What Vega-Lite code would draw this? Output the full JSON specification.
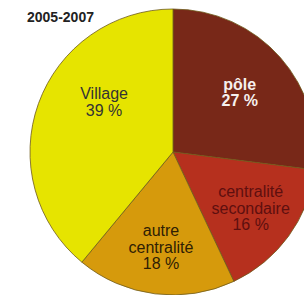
{
  "$schema": "https://vega.github.io/schema/vega-lite/v6.json",
  "autosize": "none",
  "padding": {"top": 28, "left": 0, "right": 0, "bottom": 19},
  "width": 346,
  "height": 248,
  "background": "white",
  "title": {
    "text": "2005-2007",
    "anchor": "start",
    "dx": 27,
    "offset": -18,
    "fontSize": 14,
    "fontWeight": "bold",
    "font": "Liberation Sans",
    "color": "#222222"
  },
  "view": {"stroke": null},
  "data": {
    "values": [
      {"slice": "pôle", "rank": 1, "pct": 27, "label": "pôle\n27 %"},
      {"slice": "centralité secondaire", "rank": 2, "pct": 16, "label": "centralité\nsecondaire\n16 %"},
      {"slice": "autre centralité", "rank": 3, "pct": 18, "label": "autre\ncentralité\n18 %"},
      {"slice": "Village", "rank": 4, "pct": 39, "label": "Village\n39 %"}
    ]
  },
  "encoding": {
    "theta": {"field": "pct", "type": "quantitative", "stack": true},
    "order": {"field": "rank", "type": "quantitative"}
  },
  "layer": [
    {
      "mark": {"type": "arc", "outerRadius": 143, "stroke": "#6e5a1a", "strokeWidth": 0.8},
      "encoding": {
        "color": {
          "field": "slice",
          "type": "nominal",
          "scale": {
            "domain": ["pôle", "centralité secondaire", "autre centralité", "Village"],
            "range": ["#782818", "#b6301e", "#d69a0c", "#e6e400"]
          },
          "legend": null
        }
      }
    },
    {
      "mark": {"type": "text", "radius": 89, "dy": -8, "font": "Liberation Sans", "fontSize": 16, "fontWeight": "bold", "lineHeight": 16, "lineBreak": "\n", "align": "center", "baseline": "middle", "color": "#f6f0ee"},
      "encoding": {
        "text": {"condition": {"test": "datum.slice === 'pôle'", "field": "label"}, "value": ""}
      }
    },
    {
      "mark": {"type": "text", "radius": 96, "dy": -16, "font": "Liberation Sans", "fontSize": 16, "lineHeight": 16.5, "lineBreak": "\n", "align": "center", "baseline": "middle", "color": "#5e0f0f"},
      "encoding": {
        "text": {"condition": {"test": "datum.slice === 'centralité secondaire'", "field": "label"}, "value": ""}
      }
    },
    {
      "mark": {"type": "text", "radius": 96, "dy": -16, "font": "Liberation Sans", "fontSize": 16, "lineHeight": 16.5, "lineBreak": "\n", "align": "center", "baseline": "middle", "color": "#2e2004"},
      "encoding": {
        "text": {"condition": {"test": "datum.slice === 'autre centralité'", "field": "label"}, "value": ""}
      }
    },
    {
      "mark": {"type": "text", "radius": 85, "thetaOffset": 0.28, "dy": -8, "font": "Liberation Sans", "fontSize": 16, "lineHeight": 16.5, "lineBreak": "\n", "align": "center", "baseline": "middle", "color": "#333333"},
      "encoding": {
        "text": {"condition": {"test": "datum.slice === 'Village'", "field": "label"}, "value": ""}
      }
    }
  ]
}
